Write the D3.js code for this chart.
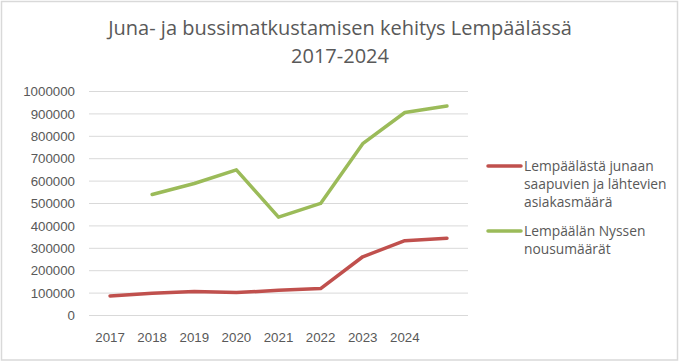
<!DOCTYPE html>
<html>
<head>
<meta charset="utf-8">
<script src="https://cdn.jsdelivr.net/npm/d3@7"></script>
<style>
  html, body { margin: 0; padding: 0; background: #fff; }
  svg { display: block; font-family: "Open Sans", Lato, sans-serif; }
  .tick text { fill: #595959; font-size: 13.3px; }
</style>
</head>
<body>
<div class="chart"></div>
<script>
const years = ["2017", "2018", "2019", "2020", "2021", "2022", "2023", "2024", ""]
const junaValues = [85000, 97000, 105000, 100000, 110000, 118000, 260000, 332000, 343000]
const nyssenValues = [null, 538000, 587000, 648000, 437000, 498000, 765000, 904000, 933000]
const yTicks = [0, 100000, 200000, 300000, 400000, 500000, 600000, 700000, 800000, 900000, 1000000]
const seriesNames = [
  ["Lempäälästä junaan", "saapuvien ja lähtevien", "asiakasmäärä"],
  ["Lempäälän Nyssen", "nousumäärät"]
]
const titleLines = ["Juna- ja bussimatkustamisen kehitys Lempäälässä", "2017-2024"]

const colors = {
  red: "#C0504D",
  green: "#9BBB59",
  grid: "#D9D9D9",
  text: "#595959"
}

const dims = {
  width: 679,
  height: 362,
  margin: { top: 91, right: 211, bottom: 47, left: 89 }
}
dims.boundedWidth = dims.width - dims.margin.left - dims.margin.right
dims.boundedHeight = dims.height - dims.margin.top - dims.margin.bottom

const svg = d3.select(".chart")
  .append("svg")
    .attr("width", dims.width)
    .attr("height", dims.height)

// outer chart border
svg.append("rect")
    .attr("x", 1.5)
    .attr("y", 1.5)
    .attr("width", dims.width - 3)
    .attr("height", dims.height - 3.5)
    .attr("fill", "#fff")
    .attr("stroke", colors.grid)
    .attr("stroke-width", 1.5)

svg.append("text")
    .attr("text-anchor", "middle")
    .attr("fill", colors.text)
    .style("font-size", "20px")
  .selectAll("tspan")
  .data(titleLines)
  .join("tspan")
    .attr("x", 340)
    .attr("y", (d, i) => 35 + i * 28)
    .text(d => d)

const bounds = svg.append("g")
    .attr("transform", `translate(${dims.margin.left}, ${dims.margin.top})`)

const xScale = d3.scaleBand()
  .domain(d3.range(years.length))
  .range([0, dims.boundedWidth])

const yScale = d3.scaleLinear()
  .domain([0, 1000000])
  .range([dims.boundedHeight, 0])

const yAxisGenerator = d3.axisLeft(yScale)
  .tickValues(yTicks)
  .tickFormat(d => d)
  .tickSize(-dims.boundedWidth)
  .tickPadding(14)

bounds.append("g")
    .call(yAxisGenerator)
    .call(g => g.select(".domain").remove())
    .call(g => g.selectAll(".tick line").attr("stroke", colors.grid).attr("stroke-width", 1))
    .call(g => g.selectAll(".tick text").attr("dy", "0.35em"))

const xAxisGenerator = d3.axisBottom(xScale)
  .tickFormat(i => years[i])
  .tickSize(0)
  .tickPadding(18)

bounds.append("g")
    .attr("transform", `translate(0, ${dims.boundedHeight})`)
    .call(xAxisGenerator)
    .call(g => g.select(".domain").remove())

const lineGenerator = d3.line()
  .defined(d => d[1] != null)
  .x(d => xScale(d[0]) + xScale.bandwidth() / 2)
  .y(d => yScale(d[1]))

const series = [
  { values: junaValues, color: colors.red },
  { values: nyssenValues, color: colors.green }
]

bounds.selectAll(".series-line")
  .data(series)
  .join("path")
    .attr("class", "series-line")
    .attr("d", d => lineGenerator(d.values.map((v, i) => [i, v])))
    .attr("fill", "none")
    .attr("stroke", d => d.color)
    .attr("stroke-width", 3.5)
    .attr("stroke-linejoin", "round")
    .attr("stroke-linecap", "round")

// legend
const legendY = [166, 231]
const legend = svg.selectAll(".legend-item")
  .data(series)
  .join("g")
    .attr("class", "legend-item")
    .attr("transform", (d, i) => `translate(488, ${legendY[i]})`)

legend.append("line")
    .attr("x1", 0)
    .attr("x2", 33)
    .attr("stroke", d => d.color)
    .attr("stroke-width", 3.5)
    .attr("stroke-linecap", "round")

legend.append("text")
    .attr("fill", colors.text)
    .style("font-size", "13.8px")
  .selectAll("tspan")
  .data((d, i) => seriesNames[i])
  .join("tspan")
    .attr("x", 36)
    .attr("y", (d, i) => 5 + i * 18)
    .text(d => d)
</script>
</body>
</html>
